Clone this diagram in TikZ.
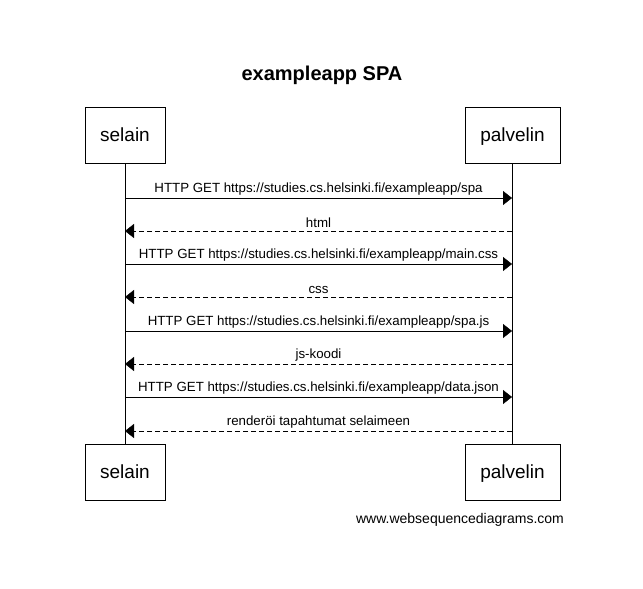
\documentclass[tikz,border=0pt]{standalone}
\usepackage{fontspec}
\setmainfont{Liberation Sans}
\usetikzlibrary{arrows.meta}
\tikzset{
  actor/.style={draw,thick,minimum width=80pt,minimum height=56pt,inner sep=0pt,text height=1.1em,text depth=0pt,font=\fontsize{19}{22}\selectfont},
  msg/.style={-{Triangle[length=9pt,width=14pt]}},
  reply/.style={msg,dash pattern=on 5pt off 3pt},
  lbl/.style={font=\fontsize{13.3}{15}\selectfont,inner sep=0pt}
}
\begin{document}
\begin{tikzpicture}[x=1pt,y=-1pt]
  \useasboundingbox (0,0) rectangle (643,589);
  \node[font=\bfseries\fontsize{20}{24}\selectfont] (title) at (322,75) {exampleapp SPA};
  \node[actor] (s1) at (125,135.5) {selain};
  \node[actor,minimum width=95pt] (p1) at (512.5,135.5) {palvelin};
  \node[actor] (s2) at (125,472.5) {selain};
  \node[actor,minimum width=95pt] (p2) at (512.5,472.5) {palvelin};
  \draw (s1) -- (s2);
  \draw (p1) -- (p2);
  % messages
  \foreach \y/\txt/\kind [count=\i] in {
    198/{HTTP GET https://studies.cs.helsinki.fi/exampleapp/spa}/msg,
    231/html/reply,
    264/{HTTP GET https://studies.cs.helsinki.fi/exampleapp/main.css}/msg,
    297/css/reply,
    331/{HTTP GET https://studies.cs.helsinki.fi/exampleapp/spa.js}/msg,
    364/js-koodi/reply,
    397/{HTTP GET https://studies.cs.helsinki.fi/exampleapp/data.json}/msg,
    431/renderöi tapahtumat selaimeen/reply}{
    \coordinate (a\i) at (125,\y);
    \coordinate (b\i) at (512,\y);
    \ifodd\i
      \draw[\kind] (a\i) -- node[lbl,above=3pt] {\txt} (b\i);
    \else
      \draw[\kind] (b\i) -- node[lbl,above=3pt] {\txt} (a\i);
    \fi
  }
  \node[font=\fontsize{14}{17}\selectfont] (web) at (460,520) {www.websequencediagrams.com};
\end{tikzpicture}
\end{document}
